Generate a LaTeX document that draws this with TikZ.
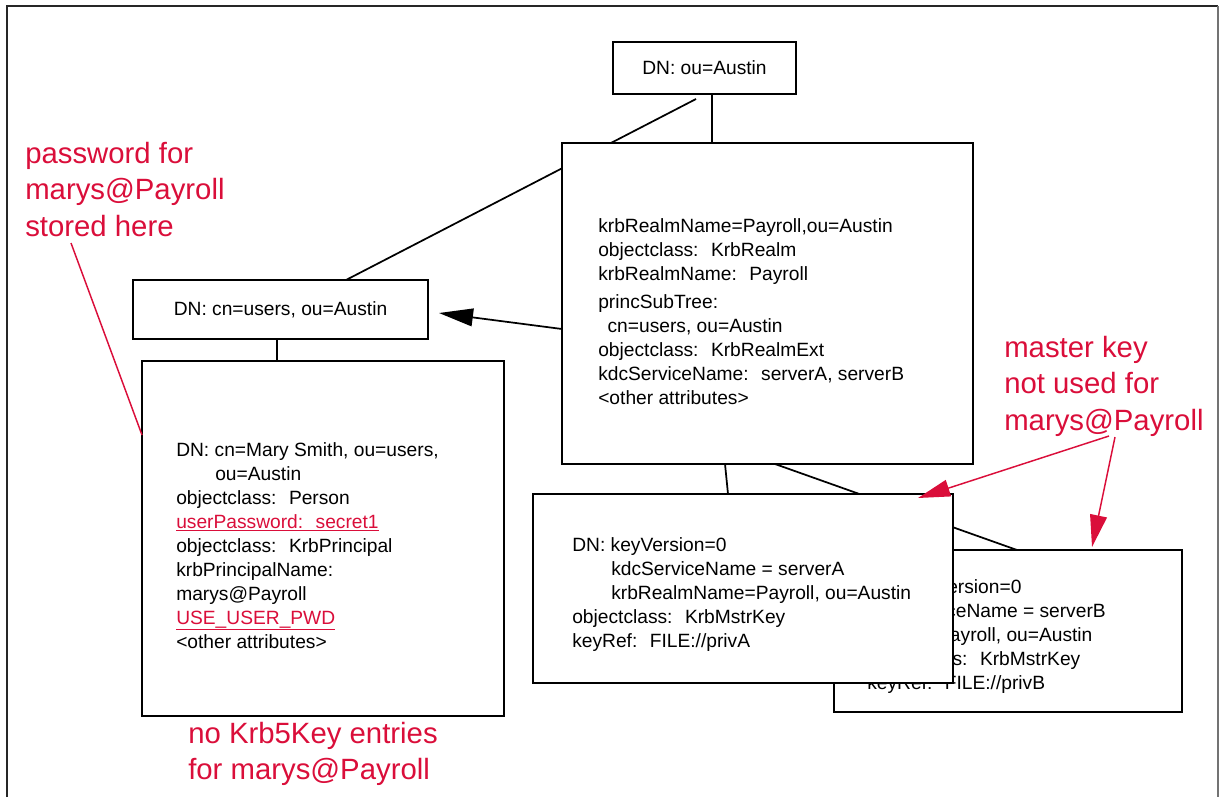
\documentclass[tikz,border=0pt]{standalone}
\usepackage{fontspec}
\setmainfont{Liberation Sans}
\usetikzlibrary{arrows.meta,calc}
\definecolor{alert}{RGB}{218,14,58}

\begin{document}
\begin{tikzpicture}[x=0.75pt,y=-0.75pt,
  entry/.style={draw=black, line width=1.5pt, fill=white, rectangle,
    inner sep=0pt, outer sep=0pt, font=\fontsize{14.4pt}{18pt}\selectfont},
  attrs/.style={inner sep=0pt, anchor=base west, font=\fontsize{14.4pt}{18pt}\selectfont},
  note/.style={inner sep=0pt, anchor=base west, text=alert,
    font=\fontsize{22pt}{27.5pt}\selectfont},
  link/.style={line width=1.3pt},
  ptr/.style={link, -{Triangle[length=25.5pt,width=13.3pt]}},
  callout/.style={draw=alert, line width=1.1pt},
  calloutptr/.style={callout, -{Triangle[length=24pt,width=12.75pt]}}
]
\useasboundingbox (0,0) rectangle (1219,797);

% page frame
\draw[line width=1.5pt, black!85] (7,797) -- (7,6) -- (1218,6);
\draw[line width=1pt, black!55] (1218,6) -- (1218,797);

% directory tree
\node[entry, minimum width=137.25pt, minimum height=39pt] (ou) at (704.5,68) {DN: ou=Austin};
\node[entry, minimum width=221.25pt, minimum height=44.25pt] (users) at (280.5,309.5) {DN: cn=users, ou=Austin};
\draw[link] ($(ou.south west)+(83,5)$) -- ($(users.north west)+(213,0)$);

\node[entry, minimum width=308.25pt, minimum height=240.75pt] (realm) at (767.5,303.5) {};
\node[attrs] (realmattrs) at (598,232) {\begin{tabular}[t]{@{}l@{}}
krbRealmName=Payroll,ou=Austin\\
objectclass:~ KrbRealm\\
krbRealmName:~ Payroll\\[3pt]
princSubTree:\\
\hspace*{7pt}cn=users, ou=Austin\\
objectclass:~ KrbRealmExt\\
kdcServiceName:~ serverA, serverB\\
<other attributes>
\end{tabular}};
\draw[link] ($(ou.south west)+(99,0)$) -- ($(realm.north west)+(150,0)$);
\draw[ptr] ($(realm.north west)+(0,186)$) -- ($(users.east)+(11,3.5)$);

% user entry
\node[entry, minimum width=271.5pt, minimum height=266.25pt] (mary) at (323,538.5) {};
\node[attrs] (maryattrs) at (176,456) {\begin{tabular}[t]{@{}l@{}}
DN: cn=Mary Smith, ou=users,\\
\hspace*{29.25pt}ou=Austin\\
objectclass:~ Person\\
\color{alert}\underline{userPassword:~ secret1}\\
objectclass:~ KrbPrincipal\\
krbPrincipalName:\\
marys@Payroll\\
\color{alert}\underline{USE\_USER\_PWD}\\
<other attributes>
\end{tabular}};
\draw[link] ($(users.south west)+(144,0)$) -- ($(mary.north west)+(135,0)$);

% master key entries
\node[entry, minimum width=261pt, minimum height=121.5pt] (keyB) at (1008,631) {};
\node[attrs] (keyBattrs) at (867,593) {\begin{tabular}[t]{@{}l@{}}
DN: keyVersion=0\\
\hspace*{4pt}kdcServiceName = serverB\\
\hspace*{-56pt}krbRealmName=Payroll, ou=Austin\\
objectclass:~ KrbMstrKey\\
keyRef:~ FILE://privB
\end{tabular}};
\draw[link] ($(realm.south west)+(213,0)$) -- ($(keyB.north west)+(183,0)$);

\node[entry, minimum width=315pt, minimum height=141.75pt] (keyA) at (743,588.5) {};
\node[attrs] (keyAattrs) at (572,551) {\begin{tabular}[t]{@{}l@{}}
DN: keyVersion=0\\
\hspace*{29.25pt}kdcServiceName = serverA\\
\hspace*{29.25pt}krbRealmName=Payroll, ou=Austin\\
objectclass:~ KrbMstrKey\\
keyRef:~ FILE://privA
\end{tabular}};
\draw[link] ($(realm.south west)+(163,0)$) -- ($(keyA.north west)+(195,0)$);

% remarks
\node[note] (pwnote) at (25,163) {\begin{tabular}[t]{@{}l@{}}
password for\\ marys@Payroll\\ stored here
\end{tabular}};
\node[note] (mknote) at (1004,357) {\begin{tabular}[t]{@{}l@{}}
master key\\ not used for\\ marys@Payroll
\end{tabular}};
\node[note] (nokey) at (188,743) {\begin{tabular}[t]{@{}l@{}}
no Krb5Key entries\\ for marys@Payroll
\end{tabular}};

\draw[callout] ($(pwnote.base west)+(46,80)$) -- ($(mary.north west)+(0,74)$);
\draw[calloutptr] ($(mknote.base west)+(105,79)$) -- ($(keyA.north east)+(-35,4)$);
\draw[calloutptr] ($(mknote.base west)+(111,80)$) -- ($(keyB.north west)+(258,-3)$);
\end{tikzpicture}
\end{document}
